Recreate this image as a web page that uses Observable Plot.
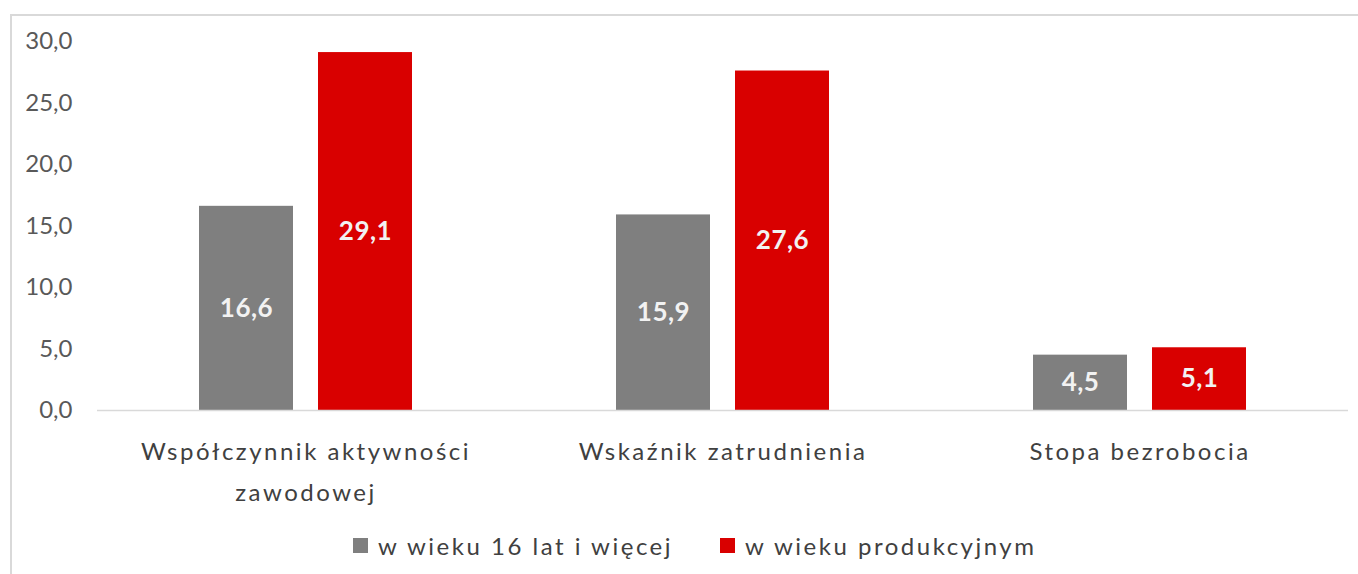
<!DOCTYPE html>
<html>
<head>
<meta charset="utf-8">
<script src="https://cdn.jsdelivr.net/npm/d3@7"></script>
<script src="https://cdn.jsdelivr.net/npm/@observablehq/plot@0.6"></script>
<style>
  html, body { margin: 0; padding: 0; background: #fff; }
  #wrap { position: relative; width: 1358px; height: 574px; overflow: hidden; font-family: Lato, sans-serif; }
  #frame { position: absolute; left: 10px; top: 14px; right: -5px; bottom: -5px; border-top: 2px solid #d9d9d9; border-left: 2px solid #d9d9d9; }
  #chart { position: absolute; left: 0; top: 0; }
  #legend { position: absolute; top: 528px; left: 0; width: 1358px; height: 34px; }
  .item { position: absolute; top: 0; display: flex; align-items: center; height: 34px; font-size: 24px; letter-spacing: 2.5px; color: #404040; }
  .sw { width: 15px; height: 15px; margin-right: 10px; }
  g[aria-label="fx-axis tick label"] text { letter-spacing: 2.5px; }
  g[aria-label="text"] text { letter-spacing: 0.5px; }
</style>
</head>
<body>
<div id="wrap">
  <div id="frame"></div>
  <div id="chart"></div>
  <div id="legend"></div>
</div>
<script>
const categories = ["Współczynnik aktywności zawodowej", "Wskaźnik zatrudnienia", "Stopa bezrobocia"];
const series = ["w wieku 16 lat i więcej", "w wieku produkcyjnym"];
const values16plus = [16.6, 15.9, 4.5];
const valuesProd = [29.1, 27.6, 5.1];
const yTicks = [0, 5, 10, 15, 20, 25, 30];
const colors = ["#7f7f7f", "#d90000"];

const data = [];
categories.forEach((c, i) => {
  data.push({cat: c, s: series[0], v: values16plus[i]});
  data.push({cat: c, s: series[1], v: valuesProd[i]});
});

const labelMap = {
  "Współczynnik aktywności zawodowej": "Współczynnik aktywności\nzawodowej"
};
const fmt = d => d.toFixed(1).replace(".", ",");

const chart = Plot.plot({
  width: 1358,
  height: 528,
  marginLeft: 97,
  marginRight: 10,
  marginTop: 41,
  marginBottom: 118,
  style: { fontFamily: "Lato, sans-serif", background: "transparent" },
  fx: { domain: categories, padding: 0, label: null, axis: null },
  x: { domain: series, paddingInner: 0.21, paddingOuter: 0.857, axis: null },
  y: { domain: [0, 30], ticks: yTicks, label: null },
  color: { domain: series, range: colors },
  marks: [
    Plot.axisY({ ticks: yTicks, tickFormat: fmt, tickSize: 0, tickPadding: 25, fontSize: 24, fill: "#595959", label: null }),
    Plot.barY(data, { fx: "cat", x: "s", y: "v", fill: "s" }),
    Plot.ruleY([0], { stroke: "#d9d9d9", strokeWidth: 1.5 }),
    Plot.text(data, { fx: "cat", x: "s", y: d => d.v / 2, text: d => fmt(d.v), fill: "#f2f2f2", fontWeight: "bold", fontSize: 26 }),
    Plot.axisFx({ anchor: "bottom", domain: categories, tickSize: 0, tickPadding: 20, fontSize: 24, fill: "#404040", lineHeight: 1.72, tickFormat: d => labelMap[d] || d, label: null, textOverflow: null, lineWidth: Infinity })
  ]
});
document.getElementById("chart").appendChild(chart);

const legend = document.getElementById("legend");
const legendX = [353, 720];
series.forEach((s, i) => {
  const it = document.createElement("div");
  it.className = "item";
  it.style.left = legendX[i] + "px";
  it.innerHTML = `<span class="sw" style="background:${colors[i]}"></span><span>${s}</span>`;
  legend.appendChild(it);
});
</script>
</body>
</html>
